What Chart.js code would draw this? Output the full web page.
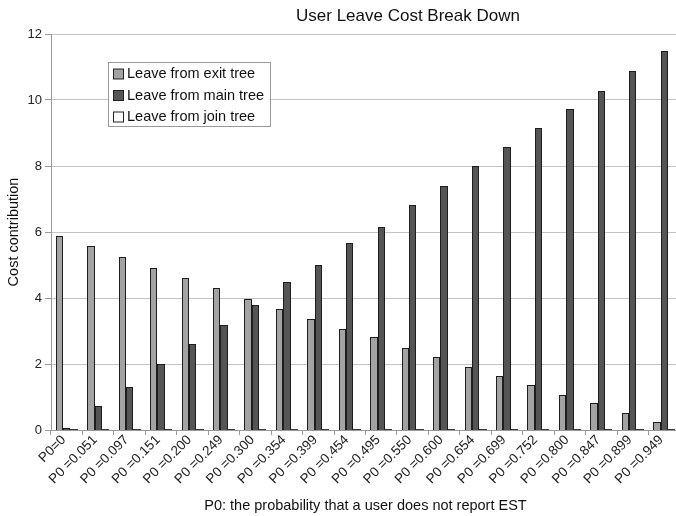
<!DOCTYPE html>
<html>
<head>
<meta charset="utf-8">
<title>User Leave Cost Break Down</title>
<script src="https://cdn.jsdelivr.net/npm/chart.js@4/dist/chart.umd.min.js"></script>
<style>
  html, body { margin: 0; padding: 0; background: #ffffff; overflow: hidden; }
  /* the plot runs a few pixels past the right edge of the page */
  #wrap { width: 680px; height: 516px; }
</style>
</head>
<body>
<div id="wrap"><canvas id="chart" width="680" height="516"></canvas></div>
<script>
// P0 values (probability that a user does not report EST)
const categories = [
  'P0=0', 'P0 =0.051', 'P0 =0.097', 'P0 =0.151', 'P0 =0.200',
  'P0 =0.249', 'P0 =0.300', 'P0 =0.354', 'P0 =0.399', 'P0 =0.454',
  'P0 =0.495', 'P0 =0.550', 'P0 =0.600', 'P0 =0.654', 'P0 =0.699',
  'P0 =0.752', 'P0 =0.800', 'P0 =0.847', 'P0 =0.899', 'P0 =0.949'
];

// Cost contribution of each leave path
const exitTree = [5.88, 5.57, 5.25, 4.91, 4.60, 4.29, 3.98, 3.66, 3.37, 3.06,
                  2.82, 2.50, 2.21, 1.92, 1.63, 1.35, 1.07, 0.82, 0.53, 0.24];
const mainTree = [0.05, 0.73, 1.31, 2.00, 2.61, 3.18, 3.80, 4.47, 5.01, 5.67,
                  6.16, 6.82, 7.39, 7.99, 8.58, 9.16, 9.73, 10.28, 10.87, 11.48];
const joinTree = [0.03, 0.03, 0.03, 0.03, 0.03, 0.03, 0.03, 0.03, 0.03, 0.03,
                  0.03, 0.03, 0.03, 0.03, 0.03, 0.03, 0.03, 0.03, 0.03, 0.03];

const yTicks = [0, 2, 4, 6, 8, 10, 12];

const FONT = '"Liberation Sans", Arial, Helvetica, sans-serif';
const TITLE = 'User Leave Cost Break Down';

// Chart title, placed right of centre like the original spreadsheet layout
const titlePlugin = {
  id: 'offsetTitle',
  afterDraw(chart) {
    const ctx = chart.ctx;
    ctx.save();
    ctx.font = '17px ' + FONT;
    ctx.fillStyle = '#111111';
    ctx.textAlign = 'center';
    ctx.textBaseline = 'alphabetic';
    ctx.fillText(TITLE, 408, 21);
    ctx.restore();
  }
};

// Snap bar edges to whole pixels so the 1px outlines stay crisp
const crispBars = {
  id: 'crispBars',
  beforeDatasetsDraw(chart) {
    chart.data.datasets.forEach((ds, i) => {
      chart.getDatasetMeta(i).data.forEach(el => {
        const l = Math.round(el.x - el.width / 2);
        const r = Math.round(el.x + el.width / 2);
        el.x = (l + r) / 2;
        el.width = r - l;
        el.y = Math.round(el.y);
        el.base = Math.round(el.base);
      });
    });
  }
};

// Boxed legend floating inside the plot area
const boxLegend = {
  id: 'boxLegend',
  afterDraw(chart) {
    const ctx = chart.ctx;
    const x = 108.5, y = 62.5, w = 162, h = 64;
    ctx.save();
    ctx.fillStyle = '#ffffff';
    ctx.fillRect(x, y, w, h);
    ctx.strokeStyle = '#9a9a9a';
    ctx.lineWidth = 1;
    ctx.strokeRect(x, y, w, h);
    ctx.font = '14.5px ' + FONT;
    ctx.textBaseline = 'middle';
    ctx.textAlign = 'left';
    chart.data.datasets.forEach((ds, i) => {
      const cy = 74 + i * 21.5;
      ctx.fillStyle = ds.backgroundColor;
      ctx.fillRect(113.5, cy - 5, 10, 10);
      ctx.strokeStyle = '#222222';
      ctx.strokeRect(113.5, cy - 5, 10, 10);
      ctx.fillStyle = '#111111';
      ctx.fillText(ds.label, 127, cy);
    });
    ctx.restore();
  }
};

new Chart(document.getElementById('chart'), {
  type: 'bar',
  data: {
    labels: categories,
    datasets: [
      { label: 'Leave from exit tree', data: exitTree, backgroundColor: '#a3a3a3',
        borderColor: '#1e1e1e', borderWidth: 1 },
      { label: 'Leave from main tree', data: mainTree, backgroundColor: '#555555',
        borderColor: '#1e1e1e', borderWidth: 1 },
      { label: 'Leave from join tree', data: joinTree, backgroundColor: '#ffffff',
        borderColor: '#3a3a3a', borderWidth: 1, borderSkipped: false }
    ]
  },
  options: {
    responsive: false,
    animation: false,
    layout: { padding: { top: 34, right: 0, left: 0, bottom: 0 } },
    datasets: { bar: { categoryPercentage: 0.7, barPercentage: 1.0, inflateAmount: 0 } },
    plugins: {
      legend: { display: false },
      title: { display: false },
      tooltip: { enabled: false }
    },
    scales: {
      x: {
        offset: true,
        grid: { drawOnChartArea: false, offset: true, tickLength: 5, color: '#9a9a9a' },
        border: { color: '#9a9a9a' },
        ticks: {
          minRotation: 45, maxRotation: 45, autoSkip: false,
          color: '#222222', font: { family: FONT, size: 13.5 },
          padding: -3, labelOffset: -3
        },
        title: {
          display: true,
          text: 'P0: the probability that a user does not report EST',
          color: '#111111',
          font: { family: FONT, size: 14.5 },
          padding: { top: 0, bottom: 1 }
        },
        afterFit(scale) { scale.height = 86; }
      },
      y: {
        min: 0, max: 12,
        afterBuildTicks(scale) { scale.ticks = yTicks.map(v => ({ value: v })); },
        grid: { color: '#c4c4c4', tickLength: 6, tickColor: '#9a9a9a' },
        border: { color: '#9a9a9a' },
        ticks: { color: '#222222', font: { family: FONT, size: 13 }, padding: 3 },
        title: {
          display: true,
          text: 'Cost contribution',
          color: '#111111',
          font: { family: FONT, size: 14.5 },
          padding: { top: 5, bottom: 0 }
        },
        afterFit(scale) { scale.width = 51; }
      }
    }
  },
  plugins: [titlePlugin, crispBars, boxLegend]
});
</script>
</body>
</html>
